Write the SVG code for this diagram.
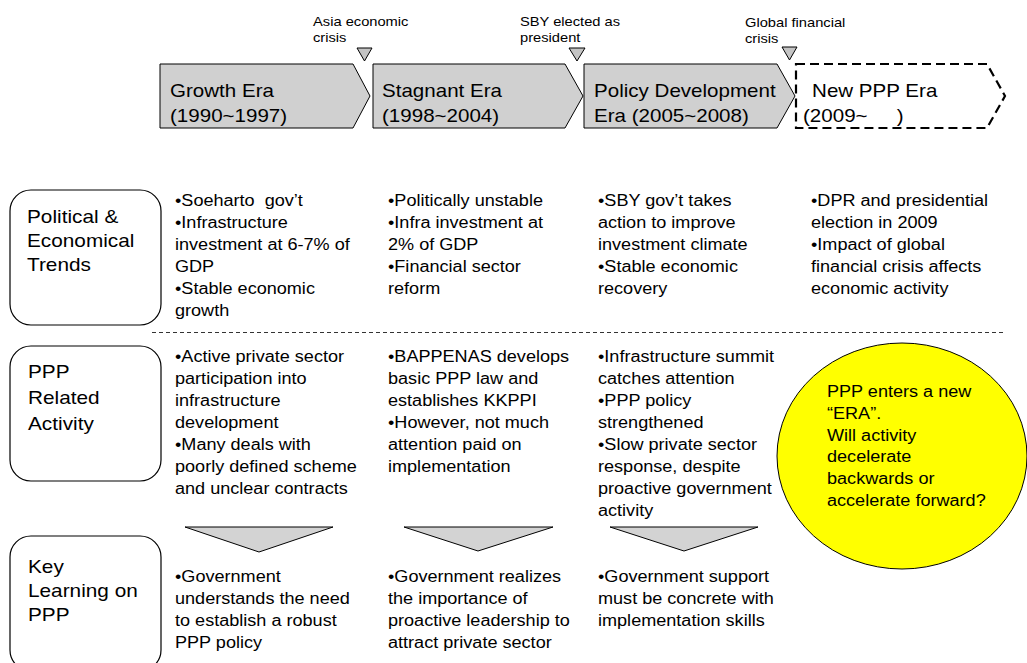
<svg xmlns="http://www.w3.org/2000/svg" width="1027" height="663" viewBox="0 0 1027 663">
  <style>
    text { font-family: "Liberation Sans", Arial, Helvetica, sans-serif; fill: #000; }
    .head { font-size: 18.2px; }
    .lbl { font-size: 18.4px; }
    .body { font-size: 16px; }
    .small { font-size: 13px; }
    .era { fill: #d0d0d0; stroke: #000; stroke-width: 1; }
    .era-next { fill: none; stroke: #000; stroke-width: 2.2; stroke-dasharray: 9 5; }
    .event { fill: #c4c4c4; stroke: #000; stroke-width: 1; }
    .row { fill: #fff; stroke: #000; stroke-width: 1.2; }
    .down { fill: #d3d3d3; stroke: #000; stroke-width: 1; }
    .sep { stroke: #333; stroke-width: 1; stroke-dasharray: 4 3; fill: none; }
  </style>

  <rect width="1027" height="663" fill="#fff"/>

  <!-- Era timeline -->
  <g id="era-growth">
    <polygon class="era" points="160,64 353,64 370,96 353,128 160,128"/>
    <text class="head" transform="translate(170 97) scale(1.13 1)"><tspan x="0" y="0">Growth Era</tspan><tspan x="0" y="25">(1990~1997)</tspan></text>
  </g>
  <g id="era-stagnant">
    <polygon class="era" points="373,64 565,64 583,96 565,128 373,128"/>
    <text class="head" transform="translate(382 97) scale(1.13 1)"><tspan x="0" y="0">Stagnant Era</tspan><tspan x="0" y="25">(1998~2004)</tspan></text>
  </g>
  <g id="era-policy">
    <polygon class="era" points="584,64 777,64 795,96 777,128 584,128"/>
    <text class="head" transform="translate(594 97) scale(1.13 1)"><tspan x="0" y="0">Policy Development</tspan><tspan x="0" y="25">Era (2005~2008)</tspan></text>
  </g>
  <g id="era-new">
    <polygon class="era-next" points="796,64 987,64 1005,96 987,128 796,128"/>
    <text class="head" transform="translate(803 97) scale(1.13 1)"><tspan x="8" y="0">New PPP Era</tspan><tspan x="0" y="25">(2009~</tspan><tspan x="83" y="25">)</tspan></text>
  </g>

  <!-- Events between eras -->
  <g id="event-asia">
    <polygon class="event" points="357,48 372,48 364.5,61"/>
    <text class="small" transform="translate(313 26) scale(1.13 1)"><tspan x="0" y="0">Asia economic</tspan><tspan x="0" y="16">crisis</tspan></text>
  </g>
  <g id="event-sby">
    <polygon class="event" points="569,48 585,48 577,61"/>
    <text class="small" transform="translate(520 26) scale(1.13 1)"><tspan x="0" y="0">SBY elected as</tspan><tspan x="0" y="16">president</tspan></text>
  </g>
  <g id="event-global">
    <polygon class="event" points="782,47 797,47 789.5,60"/>
    <text class="small" transform="translate(745 27) scale(1.13 1)"><tspan x="0" y="0">Global financial</tspan><tspan x="0" y="16">crisis</tspan></text>
  </g>

  <!-- Row headers -->
  <g id="row-trends">
    <rect class="row" x="10" y="190" width="151" height="135" rx="21" ry="21"/>
    <text class="lbl" transform="translate(27 223) scale(1.13 1)"><tspan x="0" y="0">Political &amp;</tspan><tspan x="0" y="24">Economical</tspan><tspan x="0" y="48">Trends</tspan></text>
  </g>
  <g id="row-activity">
    <rect class="row" x="10" y="346" width="151" height="135" rx="21" ry="21"/>
    <text class="lbl" transform="translate(28 378) scale(1.13 1)"><tspan x="0" y="0">PPP</tspan><tspan x="0" y="26">Related</tspan><tspan x="0" y="52">Activity</tspan></text>
  </g>
  <g id="row-learning">
    <rect class="row" x="10" y="536" width="151" height="135" rx="21" ry="21"/>
    <text class="lbl" transform="translate(28 573) scale(1.13 1)"><tspan x="0" y="0">Key</tspan><tspan x="0" y="24">Learning on</tspan><tspan x="0" y="48">PPP</tspan></text>
  </g>

  <!-- Separator between trends and activity -->
  <g id="separator">
    <line class="sep" x1="152" y1="332.5" x2="1003" y2="332.5"/>
  </g>

  <!-- Political & economical trends -->
  <g id="trends-growth">
    <text class="body" transform="translate(175 206) scale(1.13 1)"><tspan x="0" y="0">•Soeharto&#160; gov’t</tspan><tspan x="0" y="22">•Infrastructure</tspan><tspan x="0" y="44">investment at 6-7% of</tspan><tspan x="0" y="66">GDP</tspan><tspan x="0" y="88">•Stable economic</tspan><tspan x="0" y="110">growth</tspan></text>
  </g>
  <g id="trends-stagnant">
    <text class="body" transform="translate(388 206) scale(1.13 1)"><tspan x="0" y="0">•Politically unstable</tspan><tspan x="0" y="22">•Infra investment at</tspan><tspan x="0" y="44">2% of GDP</tspan><tspan x="0" y="66">•Financial sector</tspan><tspan x="0" y="88">reform</tspan></text>
  </g>
  <g id="trends-policy">
    <text class="body" transform="translate(598 206) scale(1.13 1)"><tspan x="0" y="0">•SBY gov’t takes</tspan><tspan x="0" y="22">action to improve</tspan><tspan x="0" y="44">investment climate</tspan><tspan x="0" y="66">•Stable economic</tspan><tspan x="0" y="88">recovery</tspan></text>
  </g>
  <g id="trends-new">
    <text class="body" transform="translate(811 206) scale(1.13 1)"><tspan x="0" y="0">•DPR and presidential</tspan><tspan x="0" y="22">election in 2009</tspan><tspan x="0" y="44">•Impact of global</tspan><tspan x="0" y="66">financial crisis affects</tspan><tspan x="0" y="88">economic activity</tspan></text>
  </g>

  <!-- PPP related activity -->
  <g id="activity-growth">
    <text class="body" transform="translate(175 362) scale(1.13 1)"><tspan x="0" y="0">•Active private sector</tspan><tspan x="0" y="22">participation into</tspan><tspan x="0" y="44">infrastructure</tspan><tspan x="0" y="66">development</tspan><tspan x="0" y="88">•Many deals with</tspan><tspan x="0" y="110">poorly defined scheme</tspan><tspan x="0" y="132">and unclear contracts</tspan></text>
  </g>
  <g id="activity-stagnant">
    <text class="body" transform="translate(388 362) scale(1.13 1)"><tspan x="0" y="0">•BAPPENAS develops</tspan><tspan x="0" y="22">basic PPP law and</tspan><tspan x="0" y="44">establishes KKPPI</tspan><tspan x="0" y="66">•However, not much</tspan><tspan x="0" y="88">attention paid on</tspan><tspan x="0" y="110">implementation</tspan></text>
  </g>
  <g id="activity-policy">
    <text class="body" transform="translate(598 362) scale(1.13 1)"><tspan x="0" y="0">•Infrastructure summit</tspan><tspan x="0" y="22">catches attention</tspan><tspan x="0" y="44">•PPP policy</tspan><tspan x="0" y="66">strengthened</tspan><tspan x="0" y="88">•Slow private sector</tspan><tspan x="0" y="110">response, despite</tspan><tspan x="0" y="132">proactive government</tspan><tspan x="0" y="154">activity</tspan></text>
  </g>
  <g id="activity-new">
    <ellipse cx="902" cy="456" rx="125" ry="113" fill="#ffff00" stroke="#000" stroke-width="1"/>
    <text class="body" transform="translate(827 397) scale(1.13 1)"><tspan x="0" y="0">PPP enters a new</tspan><tspan x="0" y="21.8">“ERA”.</tspan><tspan x="0" y="43.6">Will activity</tspan><tspan x="0" y="65.4">decelerate</tspan><tspan x="0" y="87.2">backwards or</tspan><tspan x="0" y="109">accelerate forward?</tspan></text>
  </g>

  <!-- Key learning -->
  <g id="learning-growth">
    <polygon class="down" points="185,527 333,527 259,552"/>
    <text class="body" transform="translate(175 582) scale(1.13 1)"><tspan x="0" y="0">•Government</tspan><tspan x="0" y="22">understands the need</tspan><tspan x="0" y="44">to establish a robust</tspan><tspan x="0" y="66">PPP policy</tspan></text>
  </g>
  <g id="learning-stagnant">
    <polygon class="down" points="404,527 553,527 478,551"/>
    <text class="body" transform="translate(388 582) scale(1.13 1)"><tspan x="0" y="0">•Government realizes</tspan><tspan x="0" y="22">the importance of</tspan><tspan x="0" y="44">proactive leadership to</tspan><tspan x="0" y="66">attract private sector</tspan></text>
  </g>
  <g id="learning-policy">
    <polygon class="down" points="610,527 758,527 684,551"/>
    <text class="body" transform="translate(598 582) scale(1.13 1)"><tspan x="0" y="0">•Government support</tspan><tspan x="0" y="22">must be concrete with</tspan><tspan x="0" y="44">implementation skills</tspan></text>
  </g>
</svg>
